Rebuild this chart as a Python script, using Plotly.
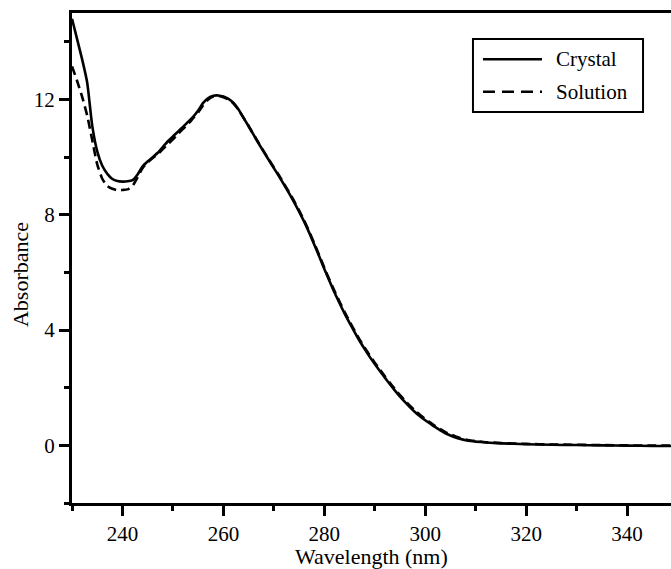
import plotly.graph_objects as go

wl_crystal = [230, 231, 232, 233, 234, 235, 236, 237, 238, 239, 240, 241, 242, 243, 244, 245, 246, 247, 248, 249,
              250, 251, 252, 253, 254, 255, 256, 257, 258, 259, 260, 261, 262, 263, 264, 265, 266, 267, 268, 269,
              270, 271, 272, 273, 274, 275, 276, 277, 278, 279, 280, 281, 282, 283, 284, 285, 286, 287, 288, 289,
              290, 291, 292, 293, 294, 295, 296, 297, 298, 299, 300, 301, 302, 303, 304, 305, 306, 307, 308, 309,
              310, 312, 315, 320, 325, 330, 335, 340, 345, 350]
abs_crystal = [14.8, 14.1, 13.4, 12.6, 11.1, 10.2, 9.7, 9.42, 9.24, 9.17, 9.15, 9.16, 9.2, 9.4, 9.68, 9.85, 10.0, 10.15, 10.35, 10.55,
               10.72, 10.88, 11.05, 11.22, 11.4, 11.62, 11.88, 12.05, 12.13, 12.14, 12.1, 12.02, 11.88, 11.65, 11.36, 11.07, 10.77, 10.47, 10.18, 9.9,
               9.62, 9.34, 9.05, 8.75, 8.44, 8.11, 7.76, 7.38, 6.97, 6.55, 6.12, 5.71, 5.31, 4.94, 4.58, 4.25, 3.93, 3.62, 3.34, 3.07,
               2.82, 2.58, 2.35, 2.12, 1.9, 1.69, 1.5, 1.32, 1.15, 1.0, 0.87, 0.75, 0.63, 0.52, 0.42, 0.34, 0.27, 0.22, 0.18, 0.15,
               0.13, 0.1, 0.07, 0.04, 0.02, 0.01, 0.0, -0.01, -0.02, -0.02]

wl_solution = wl_crystal
abs_solution = [13.15, 12.65, 12.1, 11.45, 10.6, 9.75, 9.25, 9.0, 8.9, 8.85, 8.86, 8.88, 9.0, 9.3, 9.62, 9.82, 9.97, 10.1, 10.28, 10.45,
                10.62, 10.8, 10.98, 11.15, 11.35, 11.55, 11.8, 12.0, 12.1, 12.12, 12.08, 12.0, 11.86, 11.64, 11.36, 11.08, 10.78, 10.49, 10.2, 9.92,
                9.64, 9.37, 9.08, 8.79, 8.48, 8.15, 7.8, 7.42, 7.01, 6.59, 6.16, 5.75, 5.36, 4.99, 4.63, 4.3, 3.98, 3.67, 3.39, 3.12,
                2.87, 2.63, 2.4, 2.17, 1.95, 1.74, 1.55, 1.37, 1.2, 1.05, 0.91, 0.79, 0.67, 0.56, 0.46, 0.38, 0.31, 0.25, 0.2, 0.17,
                0.15, 0.11, 0.08, 0.05, 0.03, 0.02, 0.01, 0.0, -0.01, -0.01]

series_names = ["Crystal", "Solution"]
x_ticks = [240, 260, 280, 300, 320, 340]
y_ticks = [0, 4, 8, 12]

FONT = "Liberation Serif"

fig = go.Figure()
fig.add_trace(go.Scatter(x=wl_crystal, y=abs_crystal, mode="lines", name=series_names[0],
                         line=dict(color="black", width=2.6, shape="spline", smoothing=0.6)))
fig.add_trace(go.Scatter(x=wl_solution, y=abs_solution, mode="lines", name=series_names[1],
                         line=dict(color="black", width=2.6, dash="9px,5px", shape="spline", smoothing=0.6)))

fig.update_layout(
    width=671, height=569,
    margin=dict(l=72, r=0, t=13, b=66),
    paper_bgcolor="white", plot_bgcolor="white",
    showlegend=False,
    font=dict(family=FONT, size=21, color="black"),
)
fig.update_xaxes(
    range=[230, 348.7], tickvals=x_ticks, ticktext=[str(v) for v in x_ticks],
    ticks="outside", ticklen=10, tickwidth=3, tickcolor="black",
    showline=True, linewidth=3, linecolor="black", mirror=True,
    showgrid=False, zeroline=False,
    minor=dict(tick0=230, dtick=10, ticks="outside", ticklen=5, tickwidth=3, tickcolor="black", showgrid=False),
    tickfont=dict(family=FONT, size=21, color="black"),
)
fig.update_yaxes(
    range=[-2, 15], tickvals=y_ticks, ticktext=[str(v) for v in y_ticks],
    ticks="outside", ticklen=10, tickwidth=3, tickcolor="black",
    showline=True, linewidth=3, linecolor="black", mirror=False,
    showgrid=False, zeroline=False,
    minor=dict(tick0=-2, dtick=2, ticks="outside", ticklen=5, tickwidth=3, tickcolor="black", showgrid=False),
    tickfont=dict(family=FONT, size=21, color="black"),
)

# axis titles
fig.add_annotation(text="Wavelength (nm)", xref="paper", yref="paper", x=0.5, y=-0.110,
                   xanchor="center", yanchor="middle", showarrow=False, font=dict(family=FONT, size=22))
fig.add_annotation(text="Absorbance", xref="paper", yref="paper", x=-0.087, y=0.467, textangle=-90,
                   xanchor="center", yanchor="middle", showarrow=False, font=dict(family=FONT, size=22))

# manual legend
fig.add_shape(type="rect", xref="paper", yref="paper", x0=0.6694, x1=0.9533, y0=0.798, y1=0.947,
              line=dict(color="black", width=2), fillcolor="white")
fig.add_shape(type="line", xref="paper", yref="paper", x0=0.6861, x1=0.7846, y0=0.9055, y1=0.9055,
              line=dict(color="black", width=2.6))
fig.add_shape(type="line", xref="paper", yref="paper", x0=0.6861, x1=0.7846, y0=0.8394, y1=0.8394,
              line=dict(color="black", width=2.6, dash="12px,7px"))
fig.add_annotation(text=series_names[0], xref="paper", yref="paper", x=0.8047, y=0.9055,
                   xanchor="left", yanchor="middle", showarrow=False, font=dict(family=FONT, size=21))
fig.add_annotation(text=series_names[1], xref="paper", yref="paper", x=0.8047, y=0.8394,
                   xanchor="left", yanchor="middle", showarrow=False, font=dict(family=FONT, size=21))

fig.write_html("out.html", config={"displayModeBar": False},
               post_script="document.body.style.margin='0';document.body.style.overflow='hidden';")
